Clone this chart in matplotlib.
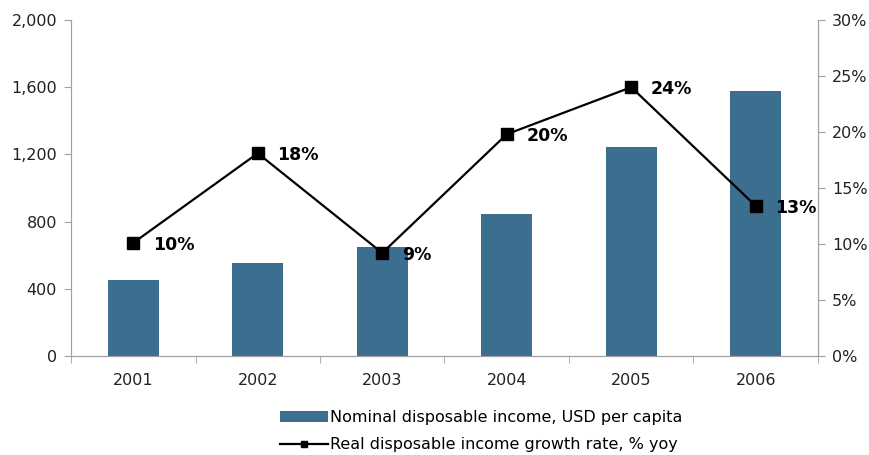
import matplotlib.pyplot as plt
from matplotlib.ticker import FuncFormatter, FixedLocator

# data
years = ['2001', '2002', '2003', '2004', '2005', '2006']
nominal_income = [455, 554, 650, 847, 1244, 1578]
real_growth = [10.1, 18.1, 9.2, 19.8, 24.0, 13.4]

bar_color = '#3b6e8f'
axis_color = '#a0a0a0'

plt.rcParams['font.family'] = 'DejaVu Sans'
plt.rcParams['font.size'] = 11.5

fig = plt.figure(figsize=(8.7, 4.55), dpi=100)
ax = fig.add_axes([71 / 870, 1 - 356 / 455, 747 / 870, 336 / 455])
ax2 = ax.twinx()

x = list(range(len(years)))
bars = ax.bar(x, nominal_income, width=0.41, color=bar_color,
              label='Nominal disposable income, USD per capita', zorder=2)

ax.set_xlim(-0.5, len(years) - 0.5)
ax.set_ylim(0, 2000)
ax.set_yticks(range(0, 2001, 400))
ax.yaxis.set_major_formatter(FuncFormatter(lambda v, p: '{:,.0f}'.format(v)))

# category labels centred, tick marks between categories
ax.set_xticks(x)
ax.set_xticklabels(years)
ax.tick_params(axis='x', which='major', length=0, pad=12, colors='#222222')
ax.xaxis.set_minor_locator(FixedLocator([i + 0.5 for i in range(-1, len(years))]))
ax.tick_params(axis='x', which='minor', length=5, color=axis_color)
ax.tick_params(axis='y', length=5, color=axis_color, colors='#222222', pad=5)

ax2.set_ylim(0, 30)
ax2.set_yticks(range(0, 31, 5))
ax2.yaxis.set_major_formatter(FuncFormatter(lambda v, p: '{:.0f}%'.format(v)))
ax2.tick_params(axis='y', length=5, color=axis_color, colors='#222222', pad=5)

line, = ax2.plot(x, real_growth, color='black', lw=1.6, marker='s', markersize=8,
                 label='Real disposable income growth rate, % yoy', zorder=3)
for xi, v in zip(x, real_growth):
    ax2.annotate('{:.0f}%'.format(v), (xi, v), xytext=(14, -1.5), textcoords='offset points',
                 ha='left', va='center', fontweight='bold', fontsize=12.5)

for a in (ax, ax2):
    a.spines['top'].set_visible(False)
    for side in ('left', 'right', 'bottom'):
        a.spines[side].set_color(axis_color)

line_handle = plt.Line2D([], [], color='black', lw=1.6, marker='s', markersize=5)
fig.legend([bars, line_handle],
           ['Nominal disposable income, USD per capita',
            'Real disposable income growth rate, % yoy'],
           loc='upper left', bbox_to_anchor=(280 / 870, 1 - 410 / 455),
           frameon=False, handlelength=3.0, handletextpad=0.15,
           labelspacing=0.78, borderaxespad=0, borderpad=0)

fig.savefig('out.png', dpi=100)
